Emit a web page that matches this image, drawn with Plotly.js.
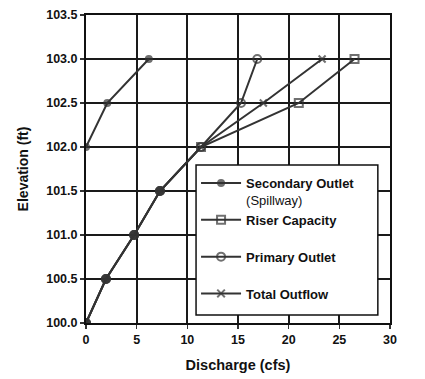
<!DOCTYPE html>
<html><head><meta charset="utf-8">
<script src="https://cdn.plot.ly/plotly-3.0.1.min.js"></script>
<style>html,body{margin:0;padding:0;background:#fff}#c{width:425px;height:379px}</style>
</head><body><div id="c"></div>
<script>
var secondaryQ = [0, 2.1, 6.2];
var secondaryElev = [102.0, 102.5, 103.0];
var riserQ = [0, 1.97, 4.75, 7.3, 11.35, 21.0, 26.5];
var riserElev = [100.0, 100.5, 101.0, 101.5, 102.0, 102.5, 103.0];
var primaryQ = [0, 1.97, 4.75, 7.3, 11.35, 15.3, 16.9];
var primaryElev = [100.0, 100.5, 101.0, 101.5, 102.0, 102.5, 103.0];
var totalQ = [0, 1.97, 4.75, 7.3, 11.35, 17.5, 23.3];
var totalElev = [100.0, 100.5, 101.0, 101.5, 102.0, 102.5, 103.0];
var names = ['<b>Secondary Outlet</b><br>(Spillway)', '<b>Riser Capacity</b><br>&nbsp;', '<b>Primary Outlet</b><br>&nbsp;', '<b>Total Outflow</b><br>&nbsp;'];
var xTicks = [0, 5, 10, 15, 20, 25, 30];
var yTicks = [100.0, 100.5, 101.0, 101.5, 102.0, 102.5, 103.0, 103.5];

// where riser, primary and total coincide the reference shows plain filled dots
function isShared(i) { return riserQ[i] === primaryQ[i] && riserQ[i] === totalQ[i] && i < 4; }

var lc = '#333';
function tr(x, y, name, sym, size, sharedSym) {
  // reversed order so the first point (used by the legend symbol) is the distinctive top point
  var idx = x.map(function(_, i) { return i; }).reverse();
  var syms = idx.map(function(i) { return (sharedSym && isShared(i)) ? 'circle' : sym; });
  var sizes = idx.map(function(i) { return (sharedSym && isShared(i)) ? 8 : size; });
  return {x: idx.map(function(i){return x[i];}), y: idx.map(function(i){return y[i];}),
    name: name, mode: 'lines+markers', type: 'scatter',
    line: {color: lc, width: 2},
    marker: {symbol: syms, size: sizes, color: lc, line: {color: lc, width: 2}}};
}
var data = [
  tr(secondaryQ, secondaryElev, names[0], 'circle', 6, false),
  tr(riserQ, riserElev, names[1], 'square-open', 8, true),
  tr(primaryQ, primaryElev, names[2], 'circle-open', 8, true),
  tr(totalQ, totalElev, names[3], 'x-thin-open', 7, true)
];
var tf = {family: 'Liberation Sans, Arial', size: 12.5, color: '#111', weight: 'bold'};
var ax = {showline: true, linecolor: '#111', linewidth: 2, mirror: true,
  showgrid: true, gridcolor: '#1a1a1a', gridwidth: 2, zeroline: false,
  ticks: 'outside', ticklen: 4, tickwidth: 1.5, tickcolor: '#333', tickfont: tf};
var layout = {
  width: 425, height: 379,
  margin: {l: 86, r: 35, t: 15, b: 56},
  paper_bgcolor: '#fff', plot_bgcolor: '#fff',
  font: {family: 'Liberation Sans, Arial', color: '#111'},
  xaxis: Object.assign({}, ax, {range: [0, 30], tickvals: xTicks, ticktext: xTicks.map(String),
    title: {text: '<b>Discharge (cfs)</b>', font: {size: 14.5}, standoff: 14}}),
  yaxis: Object.assign({}, ax, {range: [100, 103.5], tickvals: yTicks, ticktext: yTicks.map(function(v){return v.toFixed(1);}),
    title: {text: '<b>Elevation (ft)</b>', font: {size: 14}, standoff: 14}}),
  shapes: [{type: 'rect', xref: 'paper', yref: 'paper', x0: 0.362, x1: 0.96, y0: 0.026, y1: 0.513,
    fillcolor: '#fff', line: {color: '#111', width: 1.5}, layer: 'above'}],
  showlegend: true,
  legend: {x: 0.362, y: 0.503, xanchor: 'left', yanchor: 'top', bgcolor: 'rgba(0,0,0,0)',
    borderwidth: 0, traceorder: 'normal', valign: 'top', itemwidth: 40,
    font: {family: 'Liberation Sans, Arial', size: 13, color: '#111'}}
};
Plotly.newPlot('c', data, layout, {displayModeBar: false, staticPlot: true});
</script></body></html>
